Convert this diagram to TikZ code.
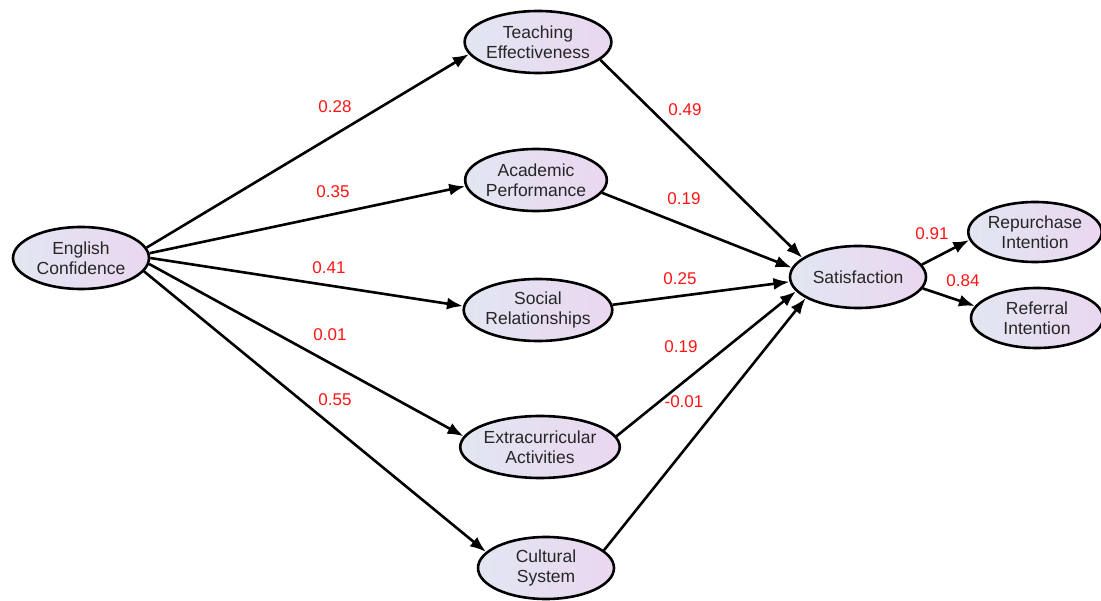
\documentclass[tikz,border=0pt]{standalone}
\usepackage{fontspec}
\setmainfont{Liberation Sans}
\usetikzlibrary{shapes.geometric,arrows.meta}
\definecolor{fillL}{RGB}{226,230,241}
\definecolor{fillR}{RGB}{234,215,240}
\definecolor{coef}{RGB}{255,20,20}
\tikzset{
  construct/.style={ellipse, draw=black, line width=2.6pt, left color=fillL, right color=fillR,
    minimum width=136pt, minimum height=62pt, inner sep=0pt, align=center,
    font=\fontsize{17.5}{20}\selectfont, text=black!85},
  path/.style={draw=black, line width=2.6pt, -{Latex[length=16pt,width=12pt]}},
  coeflabel/.style={text=coef, font=\fontsize{17}{20}\selectfont}
}
\begin{document}
\begin{tikzpicture}[x=1pt,y=-1pt]
\useasboundingbox (0,0) rectangle (1101,601);
% constructs
\node[construct] (ec) at (81,258) {English\\Confidence};
\node[construct] (te) at (538,42) {Teaching\\Effectiveness};
\node[construct] (ap) at (536,180) {Academic\\Performance};
\node[construct] (sr) at (538,310) {Social\\Relationships};
\node[construct] (ea) at (540,447) {Extracurricular\\Activities};
\node[construct] (cs) at (546,568) {Cultural\\System};
\node[construct] (sat) at (858,277) {Satisfaction};
\node[construct, minimum width=132pt, minimum height=60pt] (ri) at (1035,232) {Repurchase\\Intention};
\node[construct, minimum width=132pt, minimum height=60pt] (rf) at (1037,318) {Referral\\Intention};
% structural paths
\draw[path] (ec.9) -- (te.190);
\draw[path] (ec.4) -- (ap.185);
\draw[path] (ec.0) -- (sr.177);
\draw[path] (ec.-5) -- (ea.172);
\draw[path] (ec.-12) -- (cs.165);
\draw[path] (te.-16) -- (sat.161);
\draw[path] (ap.-11) -- (sat.172);
\draw[path] (sr.4) -- (sat.184);
\draw[path] (ea.8) -- (sat.193);
\draw[path] (cs.17) -- (sat.202);
\draw[path] (sat.11) -- (ri.187);
\draw[path] (sat.-10) -- (rf.169);
% path coefficients
\node[coeflabel] (c1) at (335,107) {0.28};
\node[coeflabel] (c2) at (333,192) {0.35};
\node[coeflabel] (c3) at (329,268) {0.41};
\node[coeflabel] (c4) at (330,335) {0.01};
\node[coeflabel] (c5) at (335,400) {0.55};
\node[coeflabel] (c6) at (685,110) {0.49};
\node[coeflabel] (c7) at (684,199) {0.19};
\node[coeflabel] (c8) at (680,279) {0.25};
\node[coeflabel] (c9) at (681,347) {0.19};
\node[coeflabel] (c10) at (684,402) {-0.01};
\node[coeflabel] (c11) at (932,234) {0.91};
\node[coeflabel] (c12) at (963,281) {0.84};
\end{tikzpicture}
\end{document}
